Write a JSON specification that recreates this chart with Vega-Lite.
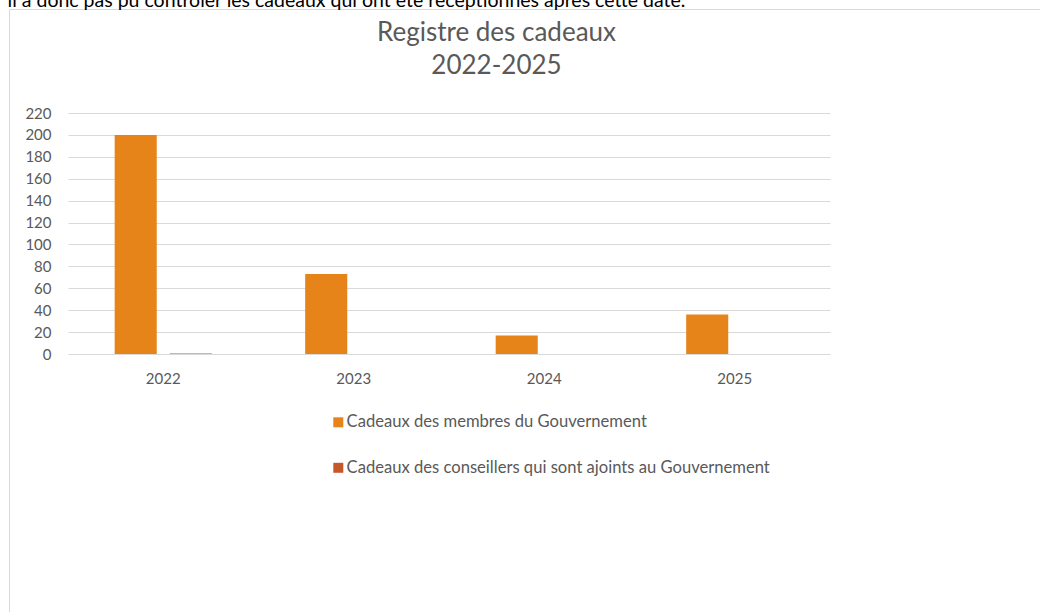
{
  "$schema": "https://vega.github.io/schema/vega-lite/v6.json",
  "width": 1031,
  "height": 603,
  "autosize": {"type": "none"},
  "padding": {"left": 9, "top": 9, "right": 0, "bottom": 0},
  "background": "white",
  "data": {
    "values": [
      {"annee": "2022", "serie": "Cadeaux des membres du Gouvernement", "nombre": 200},
      {"annee": "2022", "serie": "Cadeaux des conseillers qui sont ajoints au Gouvernement", "nombre": 0.5},
      {"annee": "2023", "serie": "Cadeaux des membres du Gouvernement", "nombre": 73},
      {"annee": "2023", "serie": "Cadeaux des conseillers qui sont ajoints au Gouvernement", "nombre": 0},
      {"annee": "2024", "serie": "Cadeaux des membres du Gouvernement", "nombre": 17},
      {"annee": "2024", "serie": "Cadeaux des conseillers qui sont ajoints au Gouvernement", "nombre": 0},
      {"annee": "2025", "serie": "Cadeaux des membres du Gouvernement", "nombre": 36},
      {"annee": "2025", "serie": "Cadeaux des conseillers qui sont ajoints au Gouvernement", "nombre": 0}
    ]
  },
  "mark": {"type": "bar"},
  "encoding": {
    "x": {
      "field": "annee",
      "type": "nominal",
      "scale": {"range": [59, 821], "paddingInner": 0.49, "paddingOuter": 0.245},
      "axis": {
        "orient": "bottom",
        "offset": -234,
        "domain": false,
        "ticks": false,
        "tickSize": 0,
        "labelPadding": 0,
        "labelBaseline": "middle",
        "labelAngle": 0,
        "labelFont": "Lato",
        "labelFontSize": 15,
        "labelColor": "#595959",
        "grid": false,
        "title": "il a donc pas pu contrôler les cadeaux qui ont été réceptionnés après cette date.",
        "titleX": -2,
        "titleY": -372,
        "titleAlign": "left",
        "titleAnchor": "start",
        "titleBaseline": "alphabetic",
        "titleFont": "Lato",
        "titleFontSize": 19.5,
        "titleFontWeight": "normal",
        "titleColor": "#000000",
        "titleLimit": 0
      }
    },
    "xOffset": {
      "field": "serie",
      "type": "nominal",
      "scale": {
        "domain": ["Cadeaux des membres du Gouvernement", "Cadeaux des conseillers qui sont ajoints au Gouvernement"],
        "paddingInner": 0.236,
        "paddingOuter": 0
      }
    },
    "y": {
      "field": "nombre",
      "type": "quantitative",
      "scale": {"domain": [0, 220], "range": [345, 104], "nice": false},
      "axis": {
        "orient": "left",
        "offset": -42,
        "values": [0, 20, 40, 60, 80, 100, 120, 140, 160, 180, 200, 220],
        "domain": false,
        "ticks": false,
        "tickSize": 0,
        "labelPadding": 0,
        "labelFont": "Lato",
        "labelFontSize": 15,
        "labelColor": "#595959",
        "grid": true,
        "gridColor": "#D9D9D9",
        "gridWidth": 1,
        "title": ["Registre des cadeaux", "2022-2025"],
        "titleAngle": 0,
        "titleX": 445,
        "titleY": 31.7,
        "titleAlign": "center",
        "titleBaseline": "alphabetic",
        "titleFont": "Lato",
        "titleFontSize": 26,
        "titleFontWeight": "normal",
        "titleColor": "#595959",
        "titleLineHeight": 33
      }
    },
    "color": {
      "field": "serie",
      "type": "nominal",
      "scale": {
        "domain": ["Cadeaux des membres du Gouvernement", "Cadeaux des conseillers qui sont ajoints au Gouvernement"],
        "range": ["#E6841A", "#C4582B"]
      },
      "legend": {
        "orient": "none",
        "legendX": 321,
        "legendY": 405,
        "direction": "vertical",
        "title": null,
        "symbolType": "square",
        "symbolSize": 100,
        "symbolStrokeWidth": 0,
        "symbolOpacity": 1,
        "labelFont": "Lato",
        "labelFontSize": 16.6,
        "labelColor": "#595959",
        "labelOffset": 0,
        "labelLimit": 0,
        "rowPadding": 28.5,
        "padding": 0
      }
    }
  },
  "config": {"view": {"stroke": "#D9D9D9", "strokeWidth": 1}}
}
